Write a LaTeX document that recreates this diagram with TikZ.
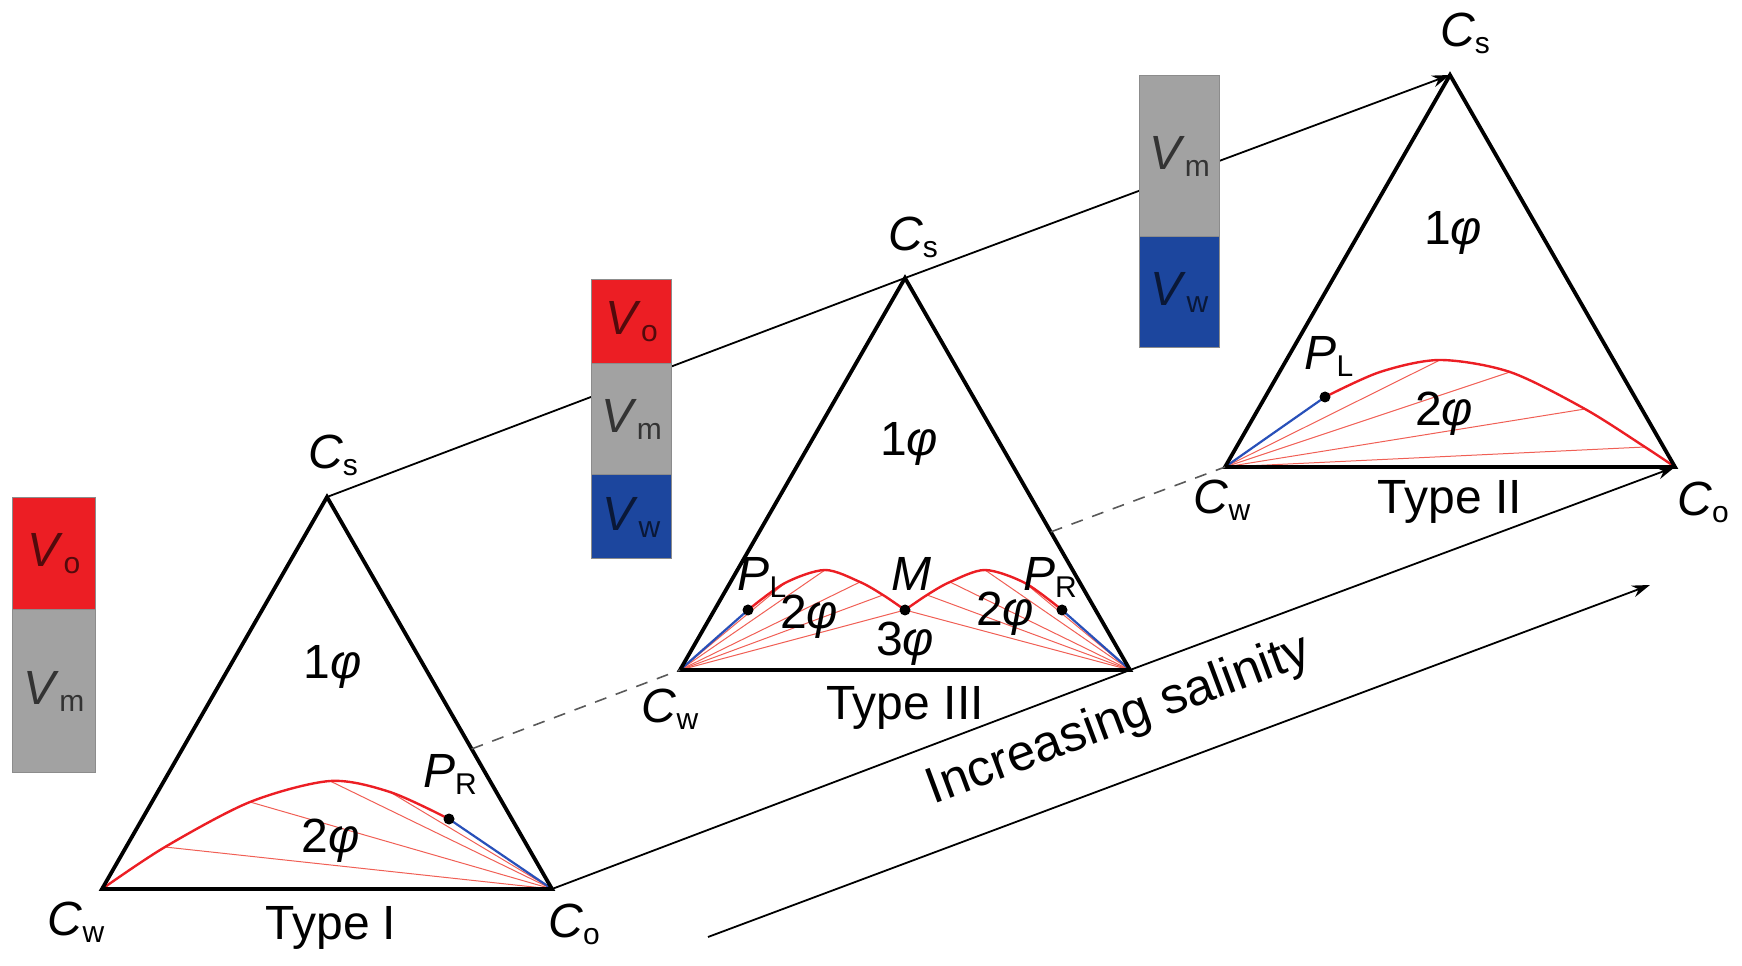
\documentclass[tikz,border=0pt]{standalone}
\usepackage{fontspec}
\setmainfont{Liberation Sans}
\usetikzlibrary{arrows.meta,positioning}
\definecolor{oilred}{RGB}{236,30,36}
\definecolor{micgray}{RGB}{162,162,162}
\definecolor{watblue}{RGB}{28,70,158}
\definecolor{tiered}{RGB}{240,95,85}
\definecolor{critblue}{RGB}{40,80,185}
\newcommand{\comp}[2]{\textit{#1}\raisebox{-3.5pt}{\fontsize{15}{17}\selectfont #2}}
\newcommand{\ph}[1]{#1\textit{φ}}

\begin{document}
\begin{tikzpicture}[x=50pt,y=50pt,
  font=\fontsize{24}{28}\selectfont,
  tri/.style={line width=1.9pt,line join=miter},
  bin/.style={oilred,line width=1.2pt},
  tie/.style={tiered,line width=0.5pt},
  crit/.style={critblue,line width=1.1pt},
  link/.style={line width=0.9pt},
  trail/.style={black!65,line width=0.8pt,dash pattern=on 6pt off 5pt},
  tip/.style={-{Stealth[length=9pt,width=6pt]}},
  dot/.style={circle,fill=black,inner sep=0pt,minimum size=5.5pt},
  barseg/.style={draw=black!45,line width=0.5pt,inner sep=0pt,outer sep=0pt,minimum width=40pt}]
\useasboundingbox (0,0) rectangle (17.42,9.65);

% Type I
\begin{scope}[shift={(1.02,0.76)}]
  \coordinate (w1) at (0,0);
  \coordinate (o1) at (4.5,0);
  \coordinate (s1) at (2.25,3.92);
  \coordinate (p1a) at (0.63,0.42);
  \coordinate (p1b) at (1.48,0.87);
  \coordinate (p1c) at (2.28,1.08);
  \coordinate (p1d) at (2.88,0.97);
  \coordinate (r1) at (3.47,0.70);
  \foreach \p in {p1a,p1b,p1c,p1d} \draw[tie] (o1) -- (\p);
  \draw[bin] plot[smooth] coordinates {(w1) (p1a) (p1b) (p1c) (p1d) (r1)};
  \draw[crit] (r1) -- (o1);
  \draw[tri] (w1) -- (o1) -- (s1) -- cycle;
  \node[dot] (r1dot) at (r1) {};
  \node (cs1) at (2.31,4.34) {\comp{C}{s}};
  \node (one1) at (2.31,2.22) {\ph{1}};
  \node (two1) at (2.29,0.48) {\ph{2}};
  \node (prl1) at (3.48,1.15) {\comp{P}{R}};
  \node (cw1) at (-0.26,-0.33) {\comp{C}{w}};
  \node (co1) at (4.72,-0.35) {\comp{C}{o}};
  \node (ty1) at (2.29,-0.39) {Type I};
\end{scope}

% Type III
\begin{scope}[shift={(6.80,2.95)}]
  \coordinate (w3) at (0,0);
  \coordinate (o3) at (4.5,0);
  \coordinate (s3) at (2.25,3.92);
  \coordinate (l3) at (0.68,0.60);
  \coordinate (l3a) at (1.05,0.87);
  \coordinate (l3b) at (1.45,1.00);
  \coordinate (l3c) at (1.80,0.88);
  \coordinate (l3d) at (2.03,0.75);
  \coordinate (m3) at (2.25,0.60);
  \coordinate (r3d) at (2.47,0.75);
  \coordinate (r3c) at (2.70,0.88);
  \coordinate (r3b) at (3.05,1.00);
  \coordinate (r3a) at (3.45,0.87);
  \coordinate (r3) at (3.82,0.60);
  \foreach \p in {l3a,l3b,l3c,l3d,m3} \draw[tie] (w3) -- (\p);
  \foreach \p in {r3a,r3b,r3c,r3d,m3} \draw[tie] (o3) -- (\p);
  \draw[bin] plot[smooth] coordinates {(l3) (l3a) (l3b) (l3c) (l3d) (m3)};
  \draw[bin] plot[smooth] coordinates {(m3) (r3d) (r3c) (r3b) (r3a) (r3)};
  \draw[crit] (w3) -- (l3);
  \draw[crit] (r3) -- (o3);
  \draw[tri] (w3) -- (o3) -- (s3) -- cycle;
  \node[dot] (l3dot) at (l3) {};
  \node[dot] (m3dot) at (m3) {};
  \node[dot] (r3dot) at (r3) {};
  \node (cs3) at (2.33,4.33) {\comp{C}{s}};
  \node (one3) at (2.29,2.26) {\ph{1}};
  \node (pll3) at (0.82,0.93) {\comp{P}{L}};
  \node (ml3) at (2.31,0.96) {\textit{M}};
  \node (prl3) at (3.70,0.93) {\comp{P}{R}};
  \node (twol3) at (1.29,0.53) {\ph{2}};
  \node (twor3) at (3.25,0.56) {\ph{2}};
  \node (three3) at (2.25,0.26) {\ph{3}};
  \node (ty3) at (2.25,-0.38) {Type III};
  \node (cw3) at (-0.10,-0.39) {\comp{C}{w}};
\end{scope}

% Type II
\begin{scope}[shift={(12.25,4.98)}]
  \coordinate (w2) at (0,0);
  \coordinate (o2) at (4.5,0);
  \coordinate (s2) at (2.25,3.92);
  \coordinate (l2) at (1.00,0.70);
  \coordinate (q2a) at (1.55,0.95);
  \coordinate (q2b) at (2.15,1.07);
  \coordinate (q2c) at (2.85,0.95);
  \coordinate (q2d) at (3.60,0.58);
  \coordinate (q2e) at (4.20,0.20);
  \foreach \p in {q2b,q2c,q2d,q2e} \draw[tie] (w2) -- (\p);
  \draw[bin] plot[smooth] coordinates {(l2) (q2a) (q2b) (q2c) (q2d) (q2e) (o2)};
  \draw[crit] (w2) -- (l2);
  \draw[tri] (w2) -- (o2) -- (s2) -- cycle;
  \node[dot] (l2dot) at (l2) {};
  \node (cs2) at (2.40,4.34) {\comp{C}{s}};
  \node (one2) at (2.28,2.34) {\ph{1}};
  \node (pll2) at (1.04,1.11) {\comp{P}{L}};
  \node (two2) at (2.19,0.53) {\ph{2}};
  \node (cw2) at (-0.03,-0.33) {\comp{C}{w}};
  \node (ty2) at (2.25,-0.35) {Type II};
  \node (co2) at (4.78,-0.35) {\comp{C}{o}};
\end{scope}

% links between the diagrams
\coordinate (d1) at (intersection of w1--w3 and s1--o1);
\coordinate (d3) at (intersection of w3--w2 and s3--o3);
\draw[link,tip] (s1) -- (s3) -- (s2);
\draw[link,tip] (o1) -- (o3) -- (o2);
\draw[trail] (d1) -- (w3);
\draw[trail] (d3) -- (w2);

\coordinate (sal0) at (7.08,0.28);
\coordinate (sal1) at (16.50,3.80);
\draw[link,tip] (sal0) -- (sal1);
\node[rotate=20.5,font=\fontsize{25.5}{30}\selectfont] (saltxt) at (11.19,2.44) {Increasing salinity};

% volume bars
\node[barseg,fill=oilred,text=oilred!35!black,minimum width=41pt,minimum height=56pt] (vo1) at (0.54,4.11) {\comp{V}{o}};
\node[barseg,fill=micgray,text=black!80,minimum width=41pt,minimum height=81.5pt,below=0pt of vo1] (vm1) {\comp{V}{m}};

\node[barseg,fill=oilred,text=oilred!35!black,minimum height=42pt] (vo2) at (6.315,6.43) {\comp{V}{o}};
\node[barseg,fill=micgray,text=black!80,minimum height=55.5pt,below=0pt of vo2] (vm2) {\comp{V}{m}};
\node[barseg,fill=watblue,text=watblue!35!black,minimum height=42pt,below=0pt of vm2] (vw2) {\comp{V}{w}};

\node[barseg,fill=micgray,text=black!80,minimum height=80.5pt] (vm3) at (11.795,8.085) {\comp{V}{m}};
\node[barseg,fill=watblue,text=watblue!35!black,minimum height=55.5pt,below=0pt of vm3] (vw3) {\comp{V}{w}};
\end{tikzpicture}
\end{document}
